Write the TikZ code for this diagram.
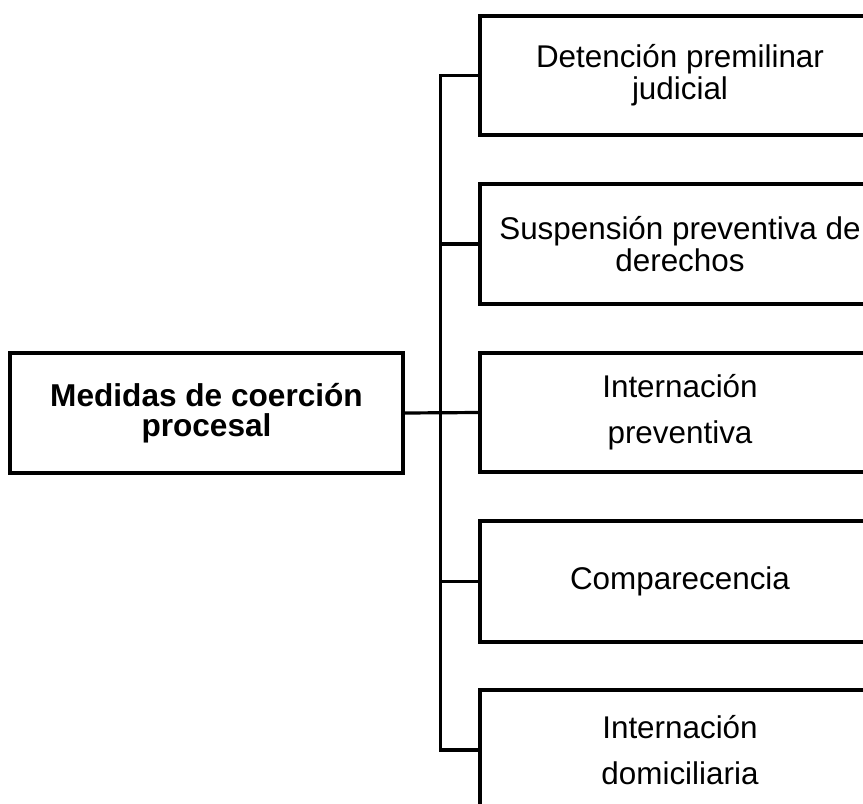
\documentclass[tikz,border=0pt]{standalone}
\usepackage{fontspec}
\setmainfont{Liberation Sans}
\begin{document}
\begin{tikzpicture}[x=1pt,y=-1pt,
  box/.style={draw=black,line width=3.2pt,rectangle,align=center,inner sep=0pt,
    font=\fontsize{31.4}{32}\selectfont},
  wide/.style={font=\fontsize{31.4}{46}\selectfont},
  conn/.style={draw=black,line width=3.2pt}]
\useasboundingbox (0,0) rectangle (863,804);
\clip (0,0) rectangle (863,804);
\node[box,minimum width=393pt,minimum height=120pt,font=\fontsize{31.6}{30}\selectfont\bfseries] (main) at (206.5,413) {Medidas de coerción\\procesal};
\node[box,minimum width=400pt,minimum height=119pt] (b1) at (680,75.5) {Detención premilinar\\judicial};
\node[box,minimum width=400pt,minimum height=120pt] (b2) at (680,244) {Suspensión preventiva de\\derechos};
\node[box,wide,minimum width=400pt,minimum height=119pt] (b3) at (680,412.5) {Internación\\preventiva};
\node[box,minimum width=400pt,minimum height=121pt] (b4) at (680,581.5) {Comparecencia};
\node[box,wide,minimum width=400pt,minimum height=120pt] (b5) at (680,750) {Internación\\domiciliaria};
\draw[conn] (b1.west) -- ++(-38,0) coordinate (t1) |- (b5.west);
\draw[conn] (b2.west) -- ++(-38,0);
\draw[conn] (b4.west) -- ++(-38,0);
\draw[conn] (main.east) -- (b3.west);
\end{tikzpicture}
\end{document}
